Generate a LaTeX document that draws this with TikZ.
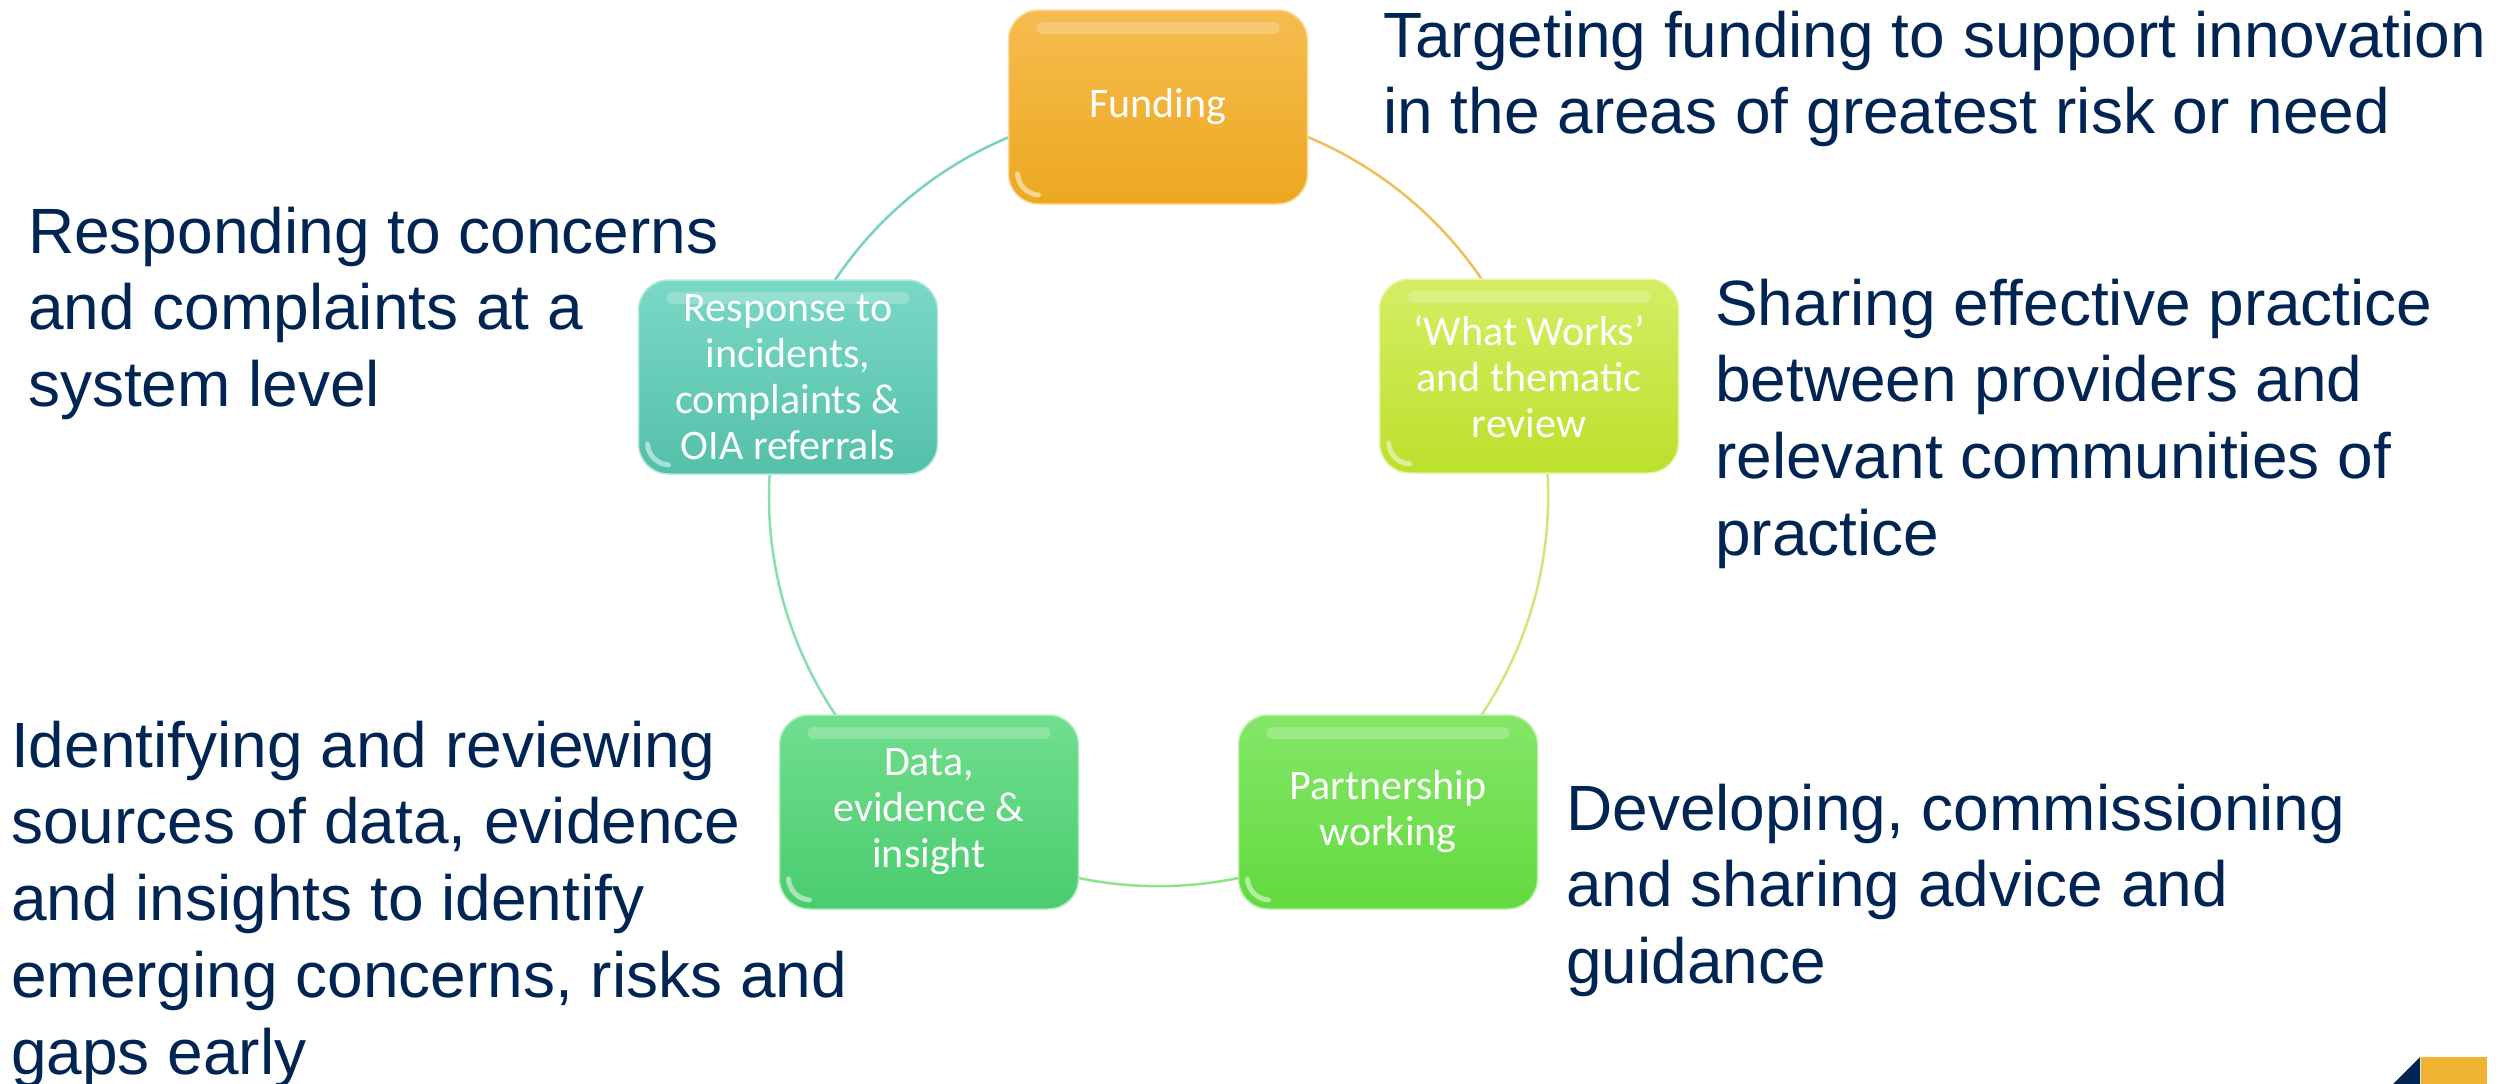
\documentclass[tikz,border=0pt]{standalone}
\usepackage{fontspec}
\setmainfont{Liberation Sans}
\newfontfamily\boxfont{Carlito}
\definecolor{navy}{RGB}{0,37,84}
\definecolor{fundT}{RGB}{246,188,80}
\definecolor{fundB}{RGB}{236,168,32}
\definecolor{respT}{RGB}{122,216,198}
\definecolor{respB}{RGB}{84,192,170}
\definecolor{wwT}{RGB}{212,238,100}
\definecolor{wwB}{RGB}{188,224,44}
\definecolor{dataT}{RGB}{112,222,142}
\definecolor{dataB}{RGB}{74,204,110}
\definecolor{partT}{RGB}{132,230,104}
\definecolor{partB}{RGB}{98,218,62}
\definecolor{logoGold}{RGB}{241,179,52}
\definecolor{arcA}{RGB}{240,190,90}
\definecolor{arcB}{RGB}{205,232,120}
\definecolor{arcC}{RGB}{140,228,130}
\definecolor{arcD}{RGB}{135,222,175}
\definecolor{arcE}{RGB}{120,210,195}
\pgfdeclarelayer{bg}
\pgfsetlayers{bg,main}
\begin{document}
\begin{tikzpicture}[x=1pt,y=-1pt,
  box/.style={rounded corners=30pt, minimum width=299pt, minimum height=194pt,
    inner sep=0pt, align=center, text=white, line width=1.5pt,
    font=\boxfont\fontsize{42}{46}\selectfont,
    path picture={
      \draw[white, opacity=0.22, line width=12pt, line cap=round]
        ([xshift=34pt,yshift=-18pt]path picture bounding box.north west) --
        ([xshift=-34pt,yshift=-18pt]path picture bounding box.north east);
      \draw[white, opacity=0.5, line width=5pt, line cap=round]
        ([xshift=9pt,yshift=30pt]path picture bounding box.south west) to[bend right=40]
        ([xshift=30pt,yshift=9pt]path picture bounding box.south west);
    }},
  desc/.style={anchor=north west, inner sep=0pt, align=left, text=navy,
    font=\fontsize{64}{76.7}\selectfont},
  ring/.style={line width=2.5pt, bend left=36, looseness=0.94}
]
\begin{pgfonlayer}{bg}
\fill[white] (0,0) rectangle (2501,1084);
\end{pgfonlayer}
\useasboundingbox (0,0) rectangle (2501,1084);

% boxes
\node[box, top color=fundT, bottom color=fundB, draw=fundT!55!white] (fund) at (1158,107) {Funding};
\node[box, top color=wwT, bottom color=wwB, draw=wwT!55!white] (ww) at (1529,376) {‘What Works’\\and thematic\\review};
\node[box, top color=partT, bottom color=partB, draw=partT!55!white] (part) at (1388,812) {Partnership\\working};
\node[box, top color=dataT, bottom color=dataB, draw=dataT!55!white] (data) at (929,812) {Data,\\evidence \&\\insight};
\node[box, top color=respT, bottom color=respB, draw=respT!55!white] (resp) at (788,377) {Response to\\incidents,\\complaints \&\\OIA referrals};

% ring
\begin{pgfonlayer}{bg}
\draw[ring, arcA] (fund.center) to (ww.center);
\draw[ring, arcB] (ww.center) to (part.center);
\draw[ring, arcC] (part.center) to (data.center);
\draw[ring, arcD] (data.center) to (resp.center);
\draw[ring, arcE] (resp.center) to (fund.center);
\end{pgfonlayer}

% descriptions
\node[desc] (tfund) at (1383,3.3) {\strut Targeting funding to support innovation\\in the areas of greatest risk or need};
\node[desc] (tresp) at (28,199.3) {\strut Responding to concerns\\and complaints at a\\system level};
\node[desc] (tww) at (1715,271.3) {\strut Sharing effective practice\\between providers and\\relevant communities of\\practice};
\node[desc] (tdata) at (11,713.3) {\strut Identifying and reviewing\\sources of data, evidence\\and insights to identify\\emerging concerns, risks and\\gaps early};
\node[desc] (tpart) at (1566,776.3) {\strut Developing, commissioning\\and sharing advice and\\guidance};

% logo corner
\fill[navy] (2393,1084) -- (2420,1057) -- (2420,1084) -- cycle;
\fill[logoGold] (2421,1057) rectangle (2487,1084);
\end{tikzpicture}
\end{document}
